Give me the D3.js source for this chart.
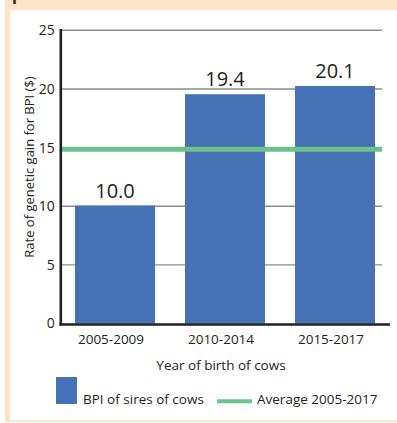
<!DOCTYPE html>
<html><head><meta charset="utf-8">
<script src="https://cdn.jsdelivr.net/npm/d3@7"></script>
<style>
html,body{margin:0;padding:0;background:#fff;}
svg{display:block;font-family:"Open Sans",sans-serif;}
</style></head>
<body>
<script>
const categories = ["2005-2009", "2010-2014", "2015-2017"];
const bpiValues = [10.05, 19.55, 20.25];
const valueLabels = ["10.0", "19.4", "20.1"];
const averageValue = 14.85;
const yTicks = [0, 5, 10, 15, 20, 25];
const yTitle = "Rate of genetic gain for BPI ($)";
const xTitle = "Year of birth of cows";
const legendItems = ["BPI of sires of cows", "Average 2005-2017"];

const W = 397, H = 423;
const svg = d3.select("body").append("svg").attr("width", W).attr("height", H);

// background panel
svg.append("rect").attr("x", 5).attr("y", 0).attr("width", W - 5).attr("height", 422).attr("fill", "#fde3c8");
svg.append("rect").attr("x", 10).attr("y", 10).attr("width", W - 10).attr("height", 410).attr("fill", "#fff");
svg.append("text").attr("x", 12).attr("y", 0).attr("font-weight", "bold").attr("font-size", 16)
  .attr("fill", "#231f20").text("period");

const x = d3.scaleBand().domain(categories).range([60, 390]).paddingInner(30 / 110).paddingOuter(15 / 110);
const y = d3.scaleLinear().domain([0, 25]).range([323.5, 30.3]);

// gridlines
svg.append("g").selectAll("line").data(yTicks.filter(d => d > 0)).join("line")
  .attr("x1", 61).attr("x2", 382).attr("y1", d => y(d)).attr("y2", d => y(d))
  .attr("stroke", "#8c8c8c").attr("stroke-width", 1.4);

// bars
svg.append("g").selectAll("rect").data(bpiValues).join("rect")
  .attr("x", (d, i) => x(categories[i])).attr("width", x.bandwidth())
  .attr("y", d => y(d)).attr("height", d => y(0) - y(d)).attr("fill", "#4572b7");

// average line
svg.append("line").attr("x1", 61).attr("x2", 382).attr("y1", y(averageValue)).attr("y2", y(averageValue))
  .attr("stroke", "#6cc18d").attr("stroke-width", 5);

// value labels
svg.append("g").selectAll("text").data(bpiValues).join("text")
  .attr("x", (d, i) => x(categories[i]) + x.bandwidth() / 2).attr("y", d => y(d) - 8)
  .attr("text-anchor", "middle").attr("font-size", 20).attr("fill", "#231f20")
  .text((d, i) => valueLabels[i]);

// y axis
const yAxis = d3.axisLeft(y).tickValues(yTicks).tickSize(0).tickPadding(6);
const gy = svg.append("g").attr("transform", "translate(60.8,0)").call(yAxis);
gy.select(".domain").remove();
gy.selectAll("text").attr("font-size", 14).attr("fill", "#231f20").attr("font-family", "Open Sans");
svg.append("line").attr("x1", 60.8).attr("x2", 60.8).attr("y1", 29).attr("y2", 325.5)
  .attr("stroke", "#231f20").attr("stroke-width", 2.6);

// x axis
const xAxis = d3.axisBottom(x).tickSize(0).tickPadding(10);
const gx = svg.append("g").attr("transform", "translate(-4,324.5)").call(xAxis);
gx.select(".domain").remove();
gx.selectAll("text").attr("font-size", 13.5).attr("fill", "#231f20").attr("font-family", "Open Sans");
svg.append("line").attr("x1", 59.5).attr("x2", 390).attr("y1", 324.5).attr("y2", 324.5)
  .attr("stroke", "#231f20").attr("stroke-width", 2.4);

// axis titles
svg.append("text").attr("transform", "translate(34,167) rotate(-90)").attr("text-anchor", "middle")
  .attr("font-size", 13).attr("fill", "#231f20").text(yTitle);
svg.append("text").attr("x", 221).attr("y", 370).attr("text-anchor", "middle")
  .attr("font-size", 13.5).attr("fill", "#231f20").text(xTitle);

// legend
svg.append("rect").attr("x", 56).attr("y", 377).attr("width", 21).attr("height", 27).attr("fill", "#4572b7");
svg.append("text").attr("x", 83).attr("y", 404).attr("font-size", 13.5).attr("fill", "#231f20").text(legendItems[0]);
svg.append("line").attr("x1", 217).attr("x2", 252).attr("y1", 401.3).attr("y2", 401.3)
  .attr("stroke", "#6cc18d").attr("stroke-width", 4);
svg.append("text").attr("x", 257).attr("y", 404).attr("font-size", 13.5).attr("fill", "#231f20").text(legendItems[1]);
</script>
</body></html>
